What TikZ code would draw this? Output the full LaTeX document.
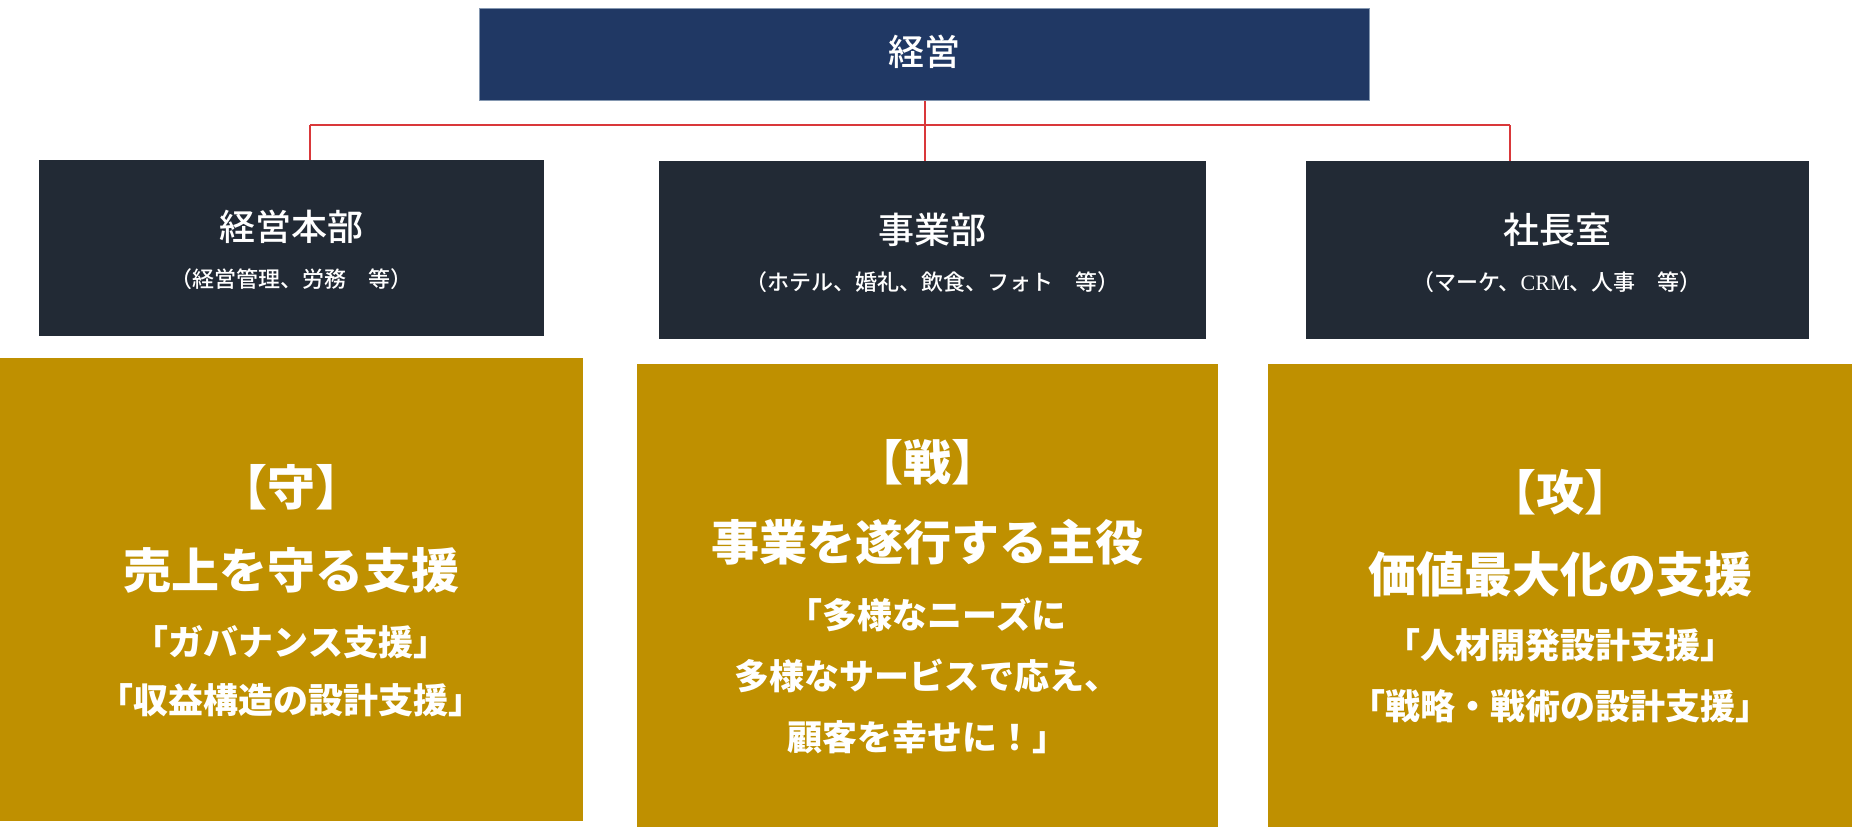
\documentclass[tikz,border=0pt]{standalone}
\usepackage{fontspec}
\setmainfont{Noto Sans CJK JP}
\newfontfamily\jpmedium{Noto Sans CJK JP Medium}
\newfontfamily\latinserif{Liberation Serif}

\definecolor{navy}{HTML}{203864}
\definecolor{navyedge}{HTML}{8497B0}
\definecolor{slate}{HTML}{222A35}
\definecolor{gold}{HTML}{BF9000}
\definecolor{linered}{HTML}{D9383A}

\tikzset{
    orgbox/.style={rectangle, fill=slate, anchor=north west, inner sep=0pt},
    goldbox/.style={rectangle, fill=gold, anchor=north west, inner sep=0pt},
    headtext/.style={text=white, inner sep=0pt, font=\jpmedium\fontsize{36}{40}\selectfont},
    subtext/.style={text=white, inner sep=0pt, font=\jpmedium\fontsize{22}{26}\selectfont},
    bigtext/.style={text=white, inner sep=0pt, font=\bfseries\fontsize{48}{54}\selectfont},
    quotetext/.style={text=white, inner sep=0pt, font=\bfseries\fontsize{35}{40}\selectfont},
    link/.style={draw=linered, line width=2pt}
}

\begin{document}
\begin{tikzpicture}[x=1pt,y=1pt,yscale=-1,xscale=1]
            \useasboundingbox (0,0) rectangle (1852,827);
            %top box
            \node[rectangle, fill=navy, draw=navyedge, line width=1pt, anchor=north west, inner sep=0pt,
                minimum width=890pt, minimum height=92pt] (keiei) at (479,8) {};
            \node[headtext] (keieitext) at (924,52) {経営};
            %
            %department boxes
            \node[orgbox, minimum width=505pt, minimum height=176pt] (honbu) at (39,160) {};
            \node[orgbox, minimum width=547pt, minimum height=178pt] (jigyo) at (659,161) {};
            \node[orgbox, minimum width=503pt, minimum height=178pt] (shacho) at (1306,161) {};
            \node[headtext] (honbuhead) at (291,227) {経営本部};
            \node[subtext] (honbusub) at (291,279) {（経営管理、労務　等）};
            \node[headtext] (jigyohead) at (932,230) {事業部};
            \node[subtext] (jigyosub) at (932,282) {（ホテル、婚礼、飲食、フォト　等）};
            \node[headtext] (shachohead) at (1557,230) {社長室};
            \node[subtext] (shachosub) at (1557,282) {（マーケ、{\latinserif CRM}、人事　等）};
            %
            %connector lines
            \coordinate (busL) at (310,125);
            \coordinate (busR) at (1510,125);
            \draw[link] (keiei.south) -- (keiei.south |- busL);
            \draw[link] (busL) -- (busR);
            \draw[link] (busL) -- (busL |- honbu.north);
            \draw[link] (keiei.south |- busL) -- (keiei.south |- jigyo.north);
            \draw[link] (busR) -- (busR |- shacho.north);
            %
            %gold boxes
            \node[goldbox, minimum width=583pt, minimum height=463pt] (mamori) at (0,358) {};
            \node[goldbox, minimum width=581pt, minimum height=463pt] (tatakai) at (637,364) {};
            \node[goldbox, minimum width=584pt, minimum height=463pt] (seme) at (1268,364) {};
            %
            %left: mamori
            \node[bigtext] (mamorititle) at (291,487) {【守】};
            \node[bigtext] (mamorimain) at (291,570) {売上を守る支援};
            \node[quotetext] (mamoriA) at (291,642) {「ガバナンス支援」};
            \node[quotetext] (mamoriB) at (291,700) {「収益構造の設計支援」};
            %middle: tatakai
            \node[bigtext] (tatakaititle) at (927,462) {【戦】};
            \node[bigtext] (tatakaimain) at (927,542) {事業を遂行する主役};
            \node[quotetext] (tatakaiA) at (927,615) {「多様なニーズに};
            \node[quotetext] (tatakaiB) at (927,676) {多様なサービスで応え、};
            \node[quotetext] (tatakaiC) at (927,737) {顧客を幸せに！」};
            %right: seme
            \node[bigtext] (semetitle) at (1560,492) {【攻】};
            \node[bigtext] (mememain) at (1560,574) {価値最大化の支援};
            \node[quotetext] (semeA) at (1560,645) {「人材開発設計支援」};
            \node[quotetext] (semeB) at (1560,706) {「戦略・戦術の設計支援」};
            %
\end{tikzpicture}
\end{document}
